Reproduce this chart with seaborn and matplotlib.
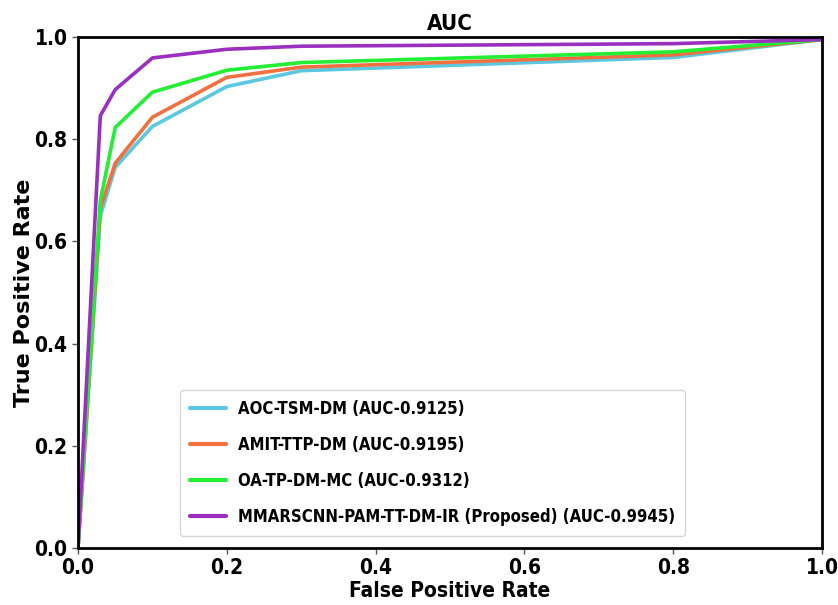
import numpy as np
import pandas as pd
import matplotlib
matplotlib.use("Agg")
import matplotlib.pyplot as plt
from matplotlib import font_manager as fm
import seaborn as sns

fpr = [0.0, 0.03, 0.05, 0.1, 0.2, 0.3, 0.8, 1.0]
tpr_aoc = [0.0, 0.650, 0.745, 0.825, 0.903, 0.934, 0.960, 0.995]
tpr_amit = [0.0, 0.665, 0.753, 0.843, 0.921, 0.941, 0.965, 0.995]
tpr_oa = [0.0, 0.680, 0.823, 0.892, 0.935, 0.950, 0.971, 0.995]
tpr_mm = [0.0, 0.846, 0.897, 0.959, 0.976, 0.982, 0.987, 0.995]

labels = [
    "AOC-TSM-DM (AUC-0.9125)",
    "AMIT-TTP-DM (AUC-0.9195)",
    "OA-TP-DM-MC (AUC-0.9312)",
    "MMARSCNN-PAM-TT-DM-IR (Proposed) (AUC-0.9945)",
]
colors = ["#5BC8E0", "#F07040", "#22EE33", "#9B30C0"]

frames = []
for lab, t in zip(labels, [tpr_aoc, tpr_amit, tpr_oa, tpr_mm]):
    frames.append(pd.DataFrame({"FPR": fpr, "TPR": t, "Model": lab}))
df = pd.concat(frames, ignore_index=True)

sns.set_style("ticks")
plt.rcParams["font.family"] = ["DejaVu Sans"]
plt.rcParams["font.weight"] = "bold"
plt.rcParams["text.color"] = "black"
plt.rcParams["axes.labelcolor"] = "black"
plt.rcParams["xtick.color"] = "black"
plt.rcParams["ytick.color"] = "black"
plt.rcParams["axes.edgecolor"] = "black"

fp = fm.FontProperties(family="DejaVu Sans", weight="bold", stretch="condensed", size=15)
fp_title = fm.FontProperties(family="DejaVu Sans", weight="bold", stretch="condensed", size=16)
fp_ylab = fm.FontProperties(family="DejaVu Sans", weight="bold", size=16)
lp = fm.FontProperties(family="DejaVu Sans", weight="bold", stretch="condensed", size=12)

fig = plt.figure(figsize=(8.38, 6.05), dpi=100)
ax = fig.add_axes([78/838, (605-548)/605, (822-78)/838, (548-37)/605])
sns.lineplot(data=df, x="FPR", y="TPR", hue="Model", palette=colors,
             linewidth=2.6, ax=ax, sort=False)
ax.set_xlim(0, 1)
ax.set_ylim(0, 1)
ax.set_xticks([0, 0.2, 0.4, 0.6, 0.8, 1.0])
ax.set_yticks([0, 0.2, 0.4, 0.6, 0.8, 1.0])
ax.tick_params(labelsize=15, width=1, length=4, color="#555555")
for lab in ax.get_xticklabels() + ax.get_yticklabels():
    lab.set_fontproperties(fp)
for s in ax.spines.values():
    s.set_linewidth(2)
    s.set_visible(True)
ax.set_xlabel("False Positive Rate", fontproperties=fp, labelpad=2)
ax.set_ylabel("True Positive Rate", fontproperties=fp_ylab, labelpad=0.5)
ax.set_title("AUC", fontproperties=fp_title, pad=5)
leg = ax.legend(loc="lower right", prop=lp, bbox_to_anchor=(0.816, 0.023),
                borderaxespad=0, frameon=True, handlelength=2.2,
                handletextpad=0.7, labelspacing=1.08, borderpad=0.6)
for h in leg.get_lines():
    h.set_linewidth(3)
fig.savefig("out.png", dpi=100)
